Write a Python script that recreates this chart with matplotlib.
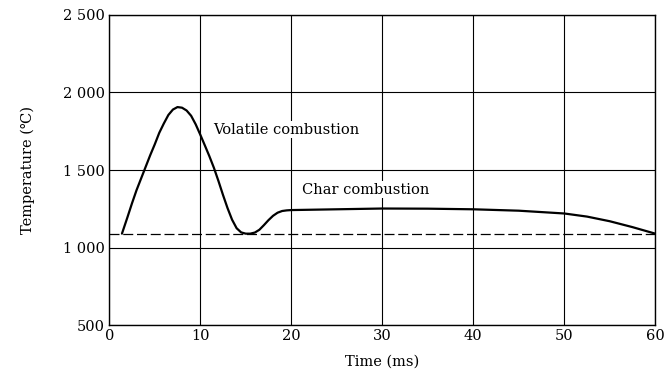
import matplotlib
matplotlib.use("Agg")
import matplotlib.pyplot as plt

# Temperature curve
time_ms = [1.4, 2.0, 2.5, 3.0, 3.5, 4.0, 4.5, 5.0, 5.5, 6.0, 6.5, 7.0, 7.5, 8.0, 8.5, 9.0,
           9.5, 10.0, 10.5, 11.0, 11.5, 12.0, 12.5, 13.0, 13.5, 14.0, 14.5, 15.0, 15.5, 16.0,
           16.5, 17.0, 17.5, 18.0, 18.5, 19.0, 19.5, 20.0, 25.0, 30.0, 35.0, 40.0, 45.0,
           50.0, 52.5, 55.0, 57.5, 60.0]
temp_c = [1090, 1195, 1285, 1370, 1445, 1520, 1595, 1665, 1740, 1800, 1855, 1890, 1906, 1902,
          1884, 1850, 1795, 1729, 1660, 1590, 1515, 1430, 1340, 1255, 1180, 1125, 1098, 1090,
          1090, 1097, 1115, 1145, 1177, 1205, 1225, 1236, 1240, 1242, 1247, 1252, 1251, 1247,
          1238, 1220, 1200, 1170, 1132, 1090]

# Dashed reference level
ref_time = [0, 60]
ref_temp = [1090, 1090]

x_ticks = [0, 10, 20, 30, 40, 50, 60]
y_ticks = [500, 1000, 1500, 2000, 2500]
y_tick_labels = ["500", "1 000", "1 500", "2 000", "2 500"]

plt.rcParams['font.family'] = ['DejaVu Serif']

fig = plt.figure(figsize=(6.7, 3.83), dpi=100)
ax = fig.add_axes([0.163, 0.151, 0.815, 0.810])

ax.plot(time_ms, temp_c, color='black', lw=1.6, solid_capstyle='round', solid_joinstyle='round')
ax.plot(ref_time, ref_temp, color='black', lw=0.9, dashes=(8, 3))

ax.set_xlim(0, 60)
ax.set_ylim(500, 2500)
ax.set_xticks(x_ticks)
ax.set_yticks(y_ticks)
ax.set_yticklabels(y_tick_labels)
ax.tick_params(length=0, labelsize=10.5, pad=3)
ax.grid(True, color='black', lw=0.8)
for s in ax.spines.values():
    s.set_color('black')
    s.set_linewidth(1.0)

ax.set_xlabel("Time (ms)", fontsize=10.5, labelpad=8)
ax.set_ylabel("Temperature (℃)", fontsize=10.5, labelpad=20)

ax.text(11.4, 1760, "Volatile combustion", fontsize=10.5, va='center', ha='left',
        bbox=dict(facecolor='white', edgecolor='none', pad=1))
ax.text(21.2, 1374, "Char combustion", fontsize=10.5, va='center', ha='left',
        bbox=dict(facecolor='white', edgecolor='none', pad=1))

fig.savefig("out.png", dpi=100)
